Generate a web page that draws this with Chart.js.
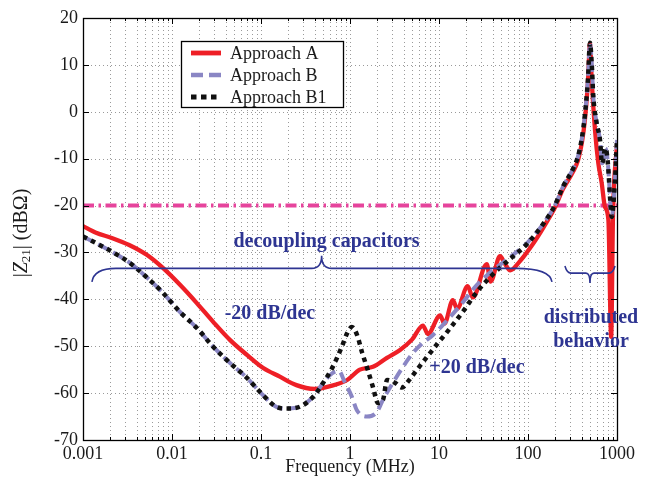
<!DOCTYPE html>
<html><head><meta charset="utf-8">
<script src="https://cdn.jsdelivr.net/npm/chart.js@4.4.0/dist/chart.umd.min.js"></script>
<style>html,body{margin:0;padding:0;background:#fff;overflow:hidden}</style>
</head><body>
<canvas id="c" width="651" height="483"></canvas>
<script>
// ---------- DATA ----------
const freqA = [0.001,0.0014,0.0021,0.0033,0.0052,0.0079,0.0123,0.019,0.029,0.045,0.07,0.105,0.163,0.25,0.4,0.6,0.93,1.29,1.81,2.6,3.65,4.97,6.6,7.5,10.3,11.5,14.3,16,21,24,34.4,38,48.5,55,63,80,106,130,168,200,247,320,365,404,437,472,497,520,566,617,673,733,800,860,902,1000];
const zA    = [-24.4,-25.8,-26.9,-28.4,-30.5,-33.3,-36.9,-40.8,-44.8,-48.7,-51.9,-54.6,-56.5,-58.3,-59.1,-58.5,-57.2,-55,-54.4,-52.5,-50.8,-48.6,-45.6,-47.4,-43.4,-45.2,-40.2,-42,-37.2,-39.6,-32.5,-36.2,-30.8,-32.4,-33.8,-32,-29,-26.5,-23,-20.5,-16.5,-12.8,-10.3,-6.5,-1.5,6.5,14.5,6.8,-3.9,-11,-15.2,-20.3,-23,-48,-22,-7];

const freqB = [0.001,0.0014,0.0021,0.0034,0.0052,0.0079,0.0123,0.019,0.029,0.045,0.07,0.105,0.151,0.195,0.274,0.385,0.5,0.64,0.75,0.87,1.05,1.19,1.55,2.01,2.35,3.04,3.94,5.1,6.6,8.56,12.3,18.6,26.7,44.9,62.8,97.5,163,200,247,320,365,404,437,472,497,520,542,591,644,680,740,770,800,835,871,950,1000];
const zB    = [-26.6,-28,-29.8,-32.3,-35.3,-38.6,-42.7,-46.1,-50.1,-53.6,-56.8,-60.4,-63,-63.3,-62.9,-60.8,-57.8,-55.7,-55.3,-57.6,-60.8,-63.6,-65,-64,-61.4,-57.8,-54.4,-51.4,-49.3,-47.6,-44.5,-40.6,-36.9,-33.1,-31,-28,-22.8,-20,-16,-12.2,-9.5,-5.5,-0.5,7,14.7,10.3,3.2,-2.4,-6,-11,-7.8,-9,-12.4,-18.2,-22.4,-14.5,-6];

const freqB1 = [0.001,0.0014,0.0021,0.0034,0.0052,0.0079,0.0123,0.019,0.029,0.045,0.07,0.105,0.151,0.195,0.274,0.385,0.5,0.64,0.81,0.93,1.05,1.2,1.37,1.58,1.81,2.06,2.35,2.61,3.2,3.84,4.5,5.66,7.33,9.75,12.3,18.6,26.7,44.9,62.8,97.5,163,200,247,320,365,404,437,472,497,520,542,591,644,680,740,770,800,835,871,950,1000];
const zB1    = [-26.6,-28,-29.8,-32.3,-35.3,-38.6,-42.7,-46.1,-50.1,-53.6,-56.8,-60.4,-63,-63.3,-62.9,-60.8,-57.8,-54.4,-50.1,-47.2,-45.9,-47.6,-51.4,-55,-58.7,-62.1,-61.4,-57.2,-57.8,-58.8,-57.5,-55,-52.3,-49.3,-47,-42.6,-38.4,-33.8,-31.4,-28.2,-22.8,-20,-16,-12.2,-9.5,-5.5,-0.5,7,14.7,10.3,3.2,-2.4,-6,-11,-7.8,-9,-12.4,-18.2,-22.4,-14.5,-6];

const limitFreq = [0.001, 1000];
const limitZ    = [-20, -20];

const seriesNames = ['Approach A','Approach B','Approach B1'];
const xTickValues = [0.001,0.01,0.1,1,10,100,1000];
const xTickLabels = ['0.001','0.01','0.1','1','10','100','1000'];
const yTickValues = [20,10,0,-10,-20,-30,-40,-50,-60,-70];
const xTitle = 'Frequency (MHz)';
const annoTexts = ['decoupling capacitors','-20 dB/dec','+20 dB/dec','distributed','behavior'];

// ---------- STYLE ----------
const FONT = '"Liberation Serif","Times New Roman",serif';
const TXT = '#1a1a1a';
const ANNO = '#2e3592';
const RED = '#ee1f26', LAV = '#8a86c4', BLK = '#111111', MAG = '#e6449c';
const styles = [
  {color:RED, dash:[], width:4.3},
  {color:LAV, dash:[11,6], width:4},
  {color:BLK, dash:[4.5,4.5], width:4.5}
];

const minorX = [];
for (let k=-3;k<3;k++) for (let d=1; d<10; d++) minorX.push(d*Math.pow(10,k));
minorX.push(1000);

function pts(f,z){return f.map((v,i)=>({x:v,y:z[i]}));}

const decor = {
  id:'decor',
  beforeDatasetsDraw(chart){
    const {ctx, chartArea:ca, scales:{x,y}} = chart;
    ctx.save();
    ctx.strokeStyle='#9a9a9a'; ctx.lineWidth=1; ctx.setLineDash([1,3]);
    minorX.forEach(v=>{ if(v<=0.001||v>=1000) return; const px=Math.round(x.getPixelForValue(v))+0.5;
      ctx.beginPath(); ctx.moveTo(px,ca.top); ctx.lineTo(px,ca.bottom); ctx.stroke(); });
    yTickValues.forEach(v=>{ if(v>=20||v<=-70) return; const py=Math.round(y.getPixelForValue(v))+0.5;
      ctx.beginPath(); ctx.moveTo(ca.left,py); ctx.lineTo(ca.right,py); ctx.stroke(); });
    ctx.restore();
  },
  afterDatasetsDraw(chart){
    const {ctx, chartArea:ca, scales:{x,y}} = chart;
    const X=v=>x.getPixelForValue(v), Y=v=>y.getPixelForValue(v);
    ctx.save();
    // ticks
    ctx.strokeStyle='#000'; ctx.lineWidth=1; ctx.setLineDash([]);
    minorX.forEach(v=>{ const major = xTickValues.includes(v); const L = major?6:3; const px=Math.round(X(v))+0.5;
      ctx.beginPath(); ctx.moveTo(px,ca.bottom); ctx.lineTo(px,ca.bottom-L); ctx.moveTo(px,ca.top); ctx.lineTo(px,ca.top+L); ctx.stroke(); });
    yTickValues.forEach(v=>{ const py=Math.round(Y(v))+0.5;
      ctx.beginPath(); ctx.moveTo(ca.left,py); ctx.lineTo(ca.left+6,py); ctx.moveTo(ca.right,py); ctx.lineTo(ca.right-6,py); ctx.stroke(); });
    // frame
    ctx.lineWidth=1.3;
    ctx.strokeRect(Math.round(ca.left)+0.5, Math.round(ca.top)+0.5, Math.round(ca.right-ca.left), Math.round(ca.bottom-ca.top));

    // braces
    ctx.strokeStyle=ANNO; ctx.lineWidth=1.6;
    function brace(x1,x2,xm,yl,ye,yt,r1,r2,rt){
      ctx.beginPath();
      ctx.moveTo(x1,ye);
      ctx.quadraticCurveTo(x1+2,yl,x1+r1,yl);
      ctx.lineTo(xm-rt,yl);
      ctx.quadraticCurveTo(xm,yl,xm,yt);
      ctx.quadraticCurveTo(xm,yl,xm+rt,yl);
      ctx.lineTo(x2-r2,yl);
      ctx.quadraticCurveTo(x2-2,yl,x2,ye);
      ctx.stroke();
    }
    brace(X(0.00126),X(186),X(0.48),Y(-33.4),Y(-36.3),Y(-30.7),24,36,10);
    brace(X(260),X(950),X(497),Y(-34.4),Y(-32.9),Y(-36.5),6,6,4);

    // annotation texts
    ctx.fillStyle=ANNO; ctx.font='bold 20px '+FONT; ctx.textAlign='center'; ctx.textBaseline='middle';
    ctx.fillText(annoTexts[0], X(0.545), Y(-27.8));
    ctx.fillText(annoTexts[1], X(0.126), Y(-43.0));
    ctx.fillText(annoTexts[2], X(26.7), Y(-54.6));
    ctx.fillText(annoTexts[3], X(510), Y(-44.0));
    ctx.fillText(annoTexts[4], X(510), Y(-49.0));

    // legend
    const bx=ca.left+98, by=ca.top+23, bw=162, bh=66;
    ctx.fillStyle='#fff'; ctx.fillRect(bx,by,bw,bh);
    ctx.strokeStyle='#000'; ctx.lineWidth=1.3; ctx.setLineDash([]);
    ctx.strokeRect(bx+0.5,by+0.5,bw,bh);
    ctx.font='18px '+FONT; ctx.textAlign='left'; ctx.fillStyle=TXT; ctx.textBaseline='middle';
    seriesNames.forEach((n,i)=>{
      const ry = by+12+i*22;
      const s=styles[i];
      ctx.strokeStyle=s.color; ctx.lineWidth=s.width+0.5; ctx.setLineDash(s.dash.length?[s.dash[0]+1,s.dash[1]]:[]);
      ctx.beginPath(); ctx.moveTo(bx+10,ry); ctx.lineTo(bx+40,ry); ctx.stroke();
      ctx.setLineDash([]);
      ctx.fillText(n, bx+49, ry+1);
    });

    // axis titles
    ctx.fillStyle=TXT; ctx.textAlign='center'; ctx.textBaseline='middle'; ctx.font='18px '+FONT;
    ctx.fillText(xTitle,(ca.left+ca.right)/2, ca.bottom+27);
    ctx.save();
    ctx.translate(22,(ca.top+ca.bottom)/2+4); ctx.rotate(-Math.PI/2);
    const parts=[{t:'|',f:'20px '+FONT,dy:0},{t:'Z',f:'italic 20px '+FONT,dy:0},{t:'21',f:'13px '+FONT,dy:5},{t:'| (dBΩ)',f:'20px '+FONT,dy:0}];
    let tot=0; parts.forEach(p=>{ctx.font=p.f; p.w=ctx.measureText(p.t).width; tot+=p.w;});
    let cx=-tot/2; ctx.textAlign='left';
    parts.forEach(p=>{ctx.font=p.f; ctx.fillText(p.t,cx,p.dy); cx+=p.w;});
    ctx.restore();
    ctx.restore();
  }
};

new Chart(document.getElementById('c'), {
  type:'scatter',
  data:{datasets:[
    {label:'limit', data:pts(limitFreq,limitZ), showLine:true, borderColor:MAG, borderWidth:4, borderDash:[11,4.5,2.5,4.5], pointRadius:0, order:4},
    {label:seriesNames[0], data:pts(freqA,zA), showLine:true, borderColor:RED, borderWidth:styles[0].width, borderJoinStyle:'round', pointRadius:0, cubicInterpolationMode:'monotone', order:3},
    {label:seriesNames[1], data:pts(freqB,zB), showLine:true, borderColor:LAV, borderWidth:styles[1].width, borderDash:styles[1].dash, borderJoinStyle:'round', pointRadius:0, cubicInterpolationMode:'monotone', order:2},
    {label:seriesNames[2], data:pts(freqB1,zB1), showLine:true, borderColor:BLK, borderWidth:styles[2].width, borderDash:styles[2].dash, borderCapStyle:'butt', borderJoinStyle:'round', pointRadius:0, cubicInterpolationMode:'monotone', order:1}
  ]},
  options:{
    responsive:false, animation:false, devicePixelRatio:1,
    layout:{padding:{top:18,right:34,left:0,bottom:0}},
    plugins:{legend:{display:false}, tooltip:{enabled:false}},
    scales:{
      x:{type:'logarithmic', min:0.001, max:1000,
        afterBuildTicks:s=>{s.ticks=xTickValues.map(v=>({value:v}));},
        ticks:{autoSkip:false, maxRotation:0, padding:3, color:TXT, font:{family:FONT,size:18}, callback:(v,i)=>xTickLabels[i]},
        grid:{display:false, drawTicks:false}, border:{display:false},
        afterFit:s=>{s.height=43;}},
      y:{min:-70, max:20,
        afterBuildTicks:s=>{s.ticks=yTickValues.map(v=>({value:v}));},
        ticks:{padding:5, color:TXT, font:{family:FONT,size:18}, callback:v=>String(v)},
        grid:{display:false, drawTicks:false}, border:{display:false},
        afterFit:s=>{s.width=83;}}
    }
  },
  plugins:[decor]
});
</script>
</body></html>
